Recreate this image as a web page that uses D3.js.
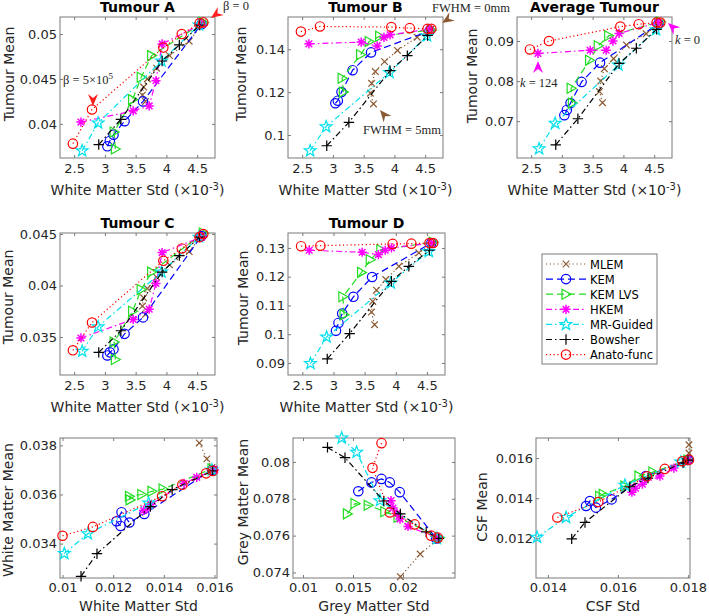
<!DOCTYPE html>
<html><head><meta charset="utf-8">
<script src="https://cdn.jsdelivr.net/npm/d3@7"></script>
<style>body{margin:0;background:#fff} svg{display:block}</style>
</head><body>
<svg id="c" width="709" height="616"></svg>
<script>
// ---------------- DATA ----------------
const methods = ["MLEM", "KEM", "KEM LVS", "HKEM", "MR-Guided", "Bowsher", "Anato-func"];

// White matter std (x10^-3) for the tumour panels, one array per method
const wmStdTop = [
  [3.66, 3.61, 3.63, 3.69, 3.84, 4.05, 4.37, 4.6],
  [3.04, 3.08, 3.14, 3.32, 3.62, 4.57],
  [3.17, 3.15, 3.45, 3.59, 3.76, 4.6],
  [2.61, 3.46, 3.72, 3.83, 3.93, 4.57],
  [2.63, 2.89, 3.92, 4.53],
  [2.9, 3.26, 3.93, 4.21, 4.54],
  [2.48, 2.79, 3.95, 4.25, 4.54, 4.6]
];
const tumourAMean = [
  [0.0425, 0.0432, 0.0441, 0.0450, 0.0462, 0.0476, 0.0492, 0.0513],
  [0.0375, 0.0381, 0.0388, 0.0403, 0.0425, 0.0511],
  [0.0372, 0.0391, 0.0427, 0.0452, 0.0476, 0.0513],
  [0.0402, 0.04145, 0.0420, 0.0448, 0.0489, 0.0511],
  [0.0370, 0.0401, 0.0470, 0.0510],
  [0.0377, 0.0405, 0.0470, 0.0488, 0.0510],
  [0.0378, 0.0416, 0.0485, 0.0500, 0.0512, 0.0513]
];
const tumourBMean = [
  [0.1145, 0.1195, 0.1241, 0.1296, 0.1342, 0.1394, 0.1456, 0.1495],
  [0.1148, 0.1160, 0.1200, 0.1302, 0.1385, 0.1485],
  [0.1200, 0.1265, 0.1374, 0.1436, 0.1460, 0.1490],
  [0.1425, 0.1433, 0.1415, 0.1455, 0.1467, 0.1493],
  [0.0927, 0.1039, 0.1291, 0.1462],
  [0.0950, 0.1059, 0.1300, 0.1370, 0.1464],
  [0.1482, 0.1506, 0.1503, 0.1498, 0.1495, 0.1495]
];
const averageTumourMean = [
  [0.0746, 0.0774, 0.0800, 0.0831, 0.0856, 0.0890, 0.0918, 0.0946],
  [0.0715, 0.0728, 0.0745, 0.0798, 0.0846, 0.0943],
  [0.0745, 0.0782, 0.0852, 0.0888, 0.0913, 0.0948],
  [0.0869, 0.0877, 0.0877, 0.0900, 0.0919, 0.0946],
  [0.0631, 0.0695, 0.0840, 0.0928],
  [0.0641, 0.0706, 0.0844, 0.0882, 0.0929],
  [0.0879, 0.0900, 0.0936, 0.0942, 0.0946, 0.0946]
];
const tumourCMean = [
  [0.0372, 0.0380, 0.0388, 0.0397, 0.0408, 0.0420, 0.0433, 0.0450],
  [0.0332, 0.0335, 0.0338, 0.0353, 0.0369, 0.0448],
  [0.0328, 0.0345, 0.0375, 0.0396, 0.0413, 0.0451],
  [0.0349, 0.0367, 0.0377, 0.0402, 0.0432, 0.0447],
  [0.0336, 0.0360, 0.0413, 0.0447],
  [0.0335, 0.0356, 0.0413, 0.0429, 0.0447],
  [0.0337, 0.0364, 0.0424, 0.0436, 0.0447, 0.0450]
];
const tumourDMean = [
  [0.1033, 0.1077, 0.1114, 0.1153, 0.1190, 0.1236, 0.1283, 0.1317],
  [0.1012, 0.1039, 0.1072, 0.1130, 0.1199, 0.1317],
  [0.1068, 0.1130, 0.1215, 0.1259, 0.1294, 0.1320],
  [0.1292, 0.1285, 0.1277, 0.1292, 0.1300, 0.1317],
  [0.0898, 0.0990, 0.1178, 0.1288],
  [0.0914, 0.1002, 0.1184, 0.1236, 0.1292],
  [0.1306, 0.1308, 0.1314, 0.1315, 0.1317, 0.1317]
];
// White matter region
const wmStd = [
  [0.0154, 0.0157, 0.0159, 0.01597, 0.0160],
  [0.01229, 0.01213, 0.01233, 0.01264, 0.01323, 0.0159],
  [0.01267, 0.01264, 0.01313, 0.01353, 0.01397, 0.0159],
  [0.0132, 0.01335, 0.0135, 0.0148, 0.0153, 0.0160],
  [0.01007, 0.0110, 0.0134, 0.0159],
  [0.01073, 0.01136, 0.01347, 0.01433, 0.01593],
  [0.0100, 0.0112, 0.01393, 0.01473, 0.01567, 0.01593]
];
const wmMean = [
  [0.0381, 0.03745, 0.0371, 0.03703, 0.0370],
  [0.03472, 0.03491, 0.03528, 0.03486, 0.03521, 0.0370],
  [0.03578, 0.03593, 0.0360, 0.03613, 0.03622, 0.03705],
  [0.03535, 0.03545, 0.0356, 0.03645, 0.0367, 0.0370],
  [0.0336, 0.0344, 0.03565, 0.0370],
  [0.03267, 0.03359, 0.03551, 0.0362, 0.03696],
  [0.03432, 0.03468, 0.03593, 0.0364, 0.03686, 0.03696]
];
// Grey matter region
const gmStd = [
  [0.01974, 0.02172, 0.02358],
  [0.01553, 0.01685, 0.01785, 0.01868, 0.01967, 0.02331],
  [0.01444, 0.0152, 0.01652, 0.01818, 0.0195, 0.02364],
  [0.0188, 0.0190, 0.0194, 0.0197, 0.0205, 0.0234],
  [0.01387, 0.01536, 0.0177, 0.0234],
  [0.01245, 0.0142, 0.01808, 0.01974, 0.02232, 0.02358],
  [0.01785, 0.01695, 0.01868, 0.02116, 0.02281, 0.02348]
];
const gmMean = [
  [0.07377, 0.0750, 0.07585],
  [0.07841, 0.07889, 0.07908, 0.07889, 0.07836, 0.07585],
  [0.07718, 0.07774, 0.07765, 0.0773, 0.0770, 0.07589],
  [0.0779, 0.0775, 0.0772, 0.0769, 0.0765, 0.0759],
  [0.0813, 0.08053, 0.0779, 0.07585],
  [0.08079, 0.08023, 0.07788, 0.07718, 0.0762, 0.07585],
  [0.08102, 0.07968, 0.07726, 0.07661, 0.0760, 0.07589]
];
// CSF region
const csfStd = [
  [0.01803, 0.01803, 0.01803],
  [0.01509, 0.0152, 0.01537, 0.01582, 0.0168, 0.0180],
  [0.01548, 0.01558, 0.0162, 0.0166, 0.0170, 0.0180],
  [0.0164, 0.0165, 0.0167, 0.0172, 0.0176, 0.0180],
  [0.01369, 0.01452, 0.0162, 0.0178],
  [0.01468, 0.01506, 0.01634, 0.01686, 0.01786, 0.0180],
  [0.01427, 0.01544, 0.01683, 0.01734, 0.01784, 0.01803]
];
const csfMean = [
  [0.01666, 0.01625, 0.01592],
  [0.01361, 0.01386, 0.01353, 0.01394, 0.0151, 0.0159],
  [0.0141, 0.0142, 0.0146, 0.0151, 0.0153, 0.0159],
  [0.0143, 0.0145, 0.0147, 0.0151, 0.0155, 0.0159],
  [0.01205, 0.01304, 0.01465, 0.0158],
  [0.01197, 0.01279, 0.01457, 0.0150, 0.01576, 0.0159],
  [0.01304, 0.01381, 0.01509, 0.01546, 0.01584, 0.01592]
];

// tick values
const topXTicks = [2.5, 3, 3.5, 4, 4.5];
const tumourATicks = [0.04, 0.045, 0.05];
const tumourBTicks = [0.1, 0.12, 0.14];
const averageTicks = [0.07, 0.08, 0.09];
const tumourCTicks = [0.035, 0.04, 0.045];
const tumourDTicks = [0.09, 0.1, 0.11, 0.12, 0.13];
const wmXTicks = [0.01, 0.012, 0.014, 0.016];
const wmYTicks = [0.034, 0.036, 0.038];
const gmXTicks = [0.01, 0.015, 0.02];
const gmYTicks = [0.074, 0.076, 0.078, 0.08];
const csfXTicks = [0.014, 0.016, 0.018];
const csfYTicks = [0.012, 0.014, 0.016];

// ---------------- STYLE ----------------
const colors = ["#8b5a33", "#0000ff", "#22dd22", "#ff00ff", "#00e0ee", "#000000", "#ff0000"];
const dashes = ["1.2,2.6", "7,4", "7,4", "6,3,1.5,3", "6,3,1.5,3", "6,3,1.5,3", "1.2,2.6"];
const markerTypes = ["x", "o", "tri", "ast", "pent", "plus", "o"];
const FONT = "'DejaVu Sans', sans-serif";
const SERIF = "'Liberation Serif', 'DejaVu Serif', serif";
const TXT = "#262626";

const svg = d3.select("#c");
svg.append("rect").attr("width", 709).attr("height", 616).attr("fill", "#fff");

function pentPath(R, r) {
  const pts = [];
  for (let i = 0; i < 10; i++) {
    const a = -Math.PI / 2 + i * Math.PI / 5;
    const rad = i % 2 === 0 ? R : r;
    pts.push([rad * Math.cos(a), rad * Math.sin(a)]);
  }
  return "M" + pts.map(p => p[0].toFixed(2) + "," + p[1].toFixed(2)).join("L") + "Z";
}
const markerPaths = {
  x: "M-3.3,-3.3L3.3,3.3M-3.3,3.3L3.3,-3.3",
  tri: "M-4,-5L5,0L-4,5Z",
  ast: "M0,-4.6V4.6M-4.6,0H4.6M-3.3,-3.3L3.3,3.3M-3.3,3.3L3.3,-3.3",
  pent: pentPath(6.2, 2.5),
  plus: "M-5.2,0H5.2M0,-5.2V5.2"
};
function drawMarker(g, type, color, cx, cy) {
  if (type === "o") {
    g.append("circle").attr("cx", cx).attr("cy", cy).attr("r", 4.7)
      .attr("fill", "none").attr("stroke", color).attr("stroke-width", 1.2);
  } else {
    g.append("path").attr("d", markerPaths[type])
      .attr("transform", `translate(${cx},${cy})`)
      .attr("fill", "none").attr("stroke", color).attr("stroke-width", type === "ast" ? 1.5 : 1.2);
  }
}

function panel(cfg) {
  const [x0, x1, y0, y1] = cfg.box;
  const x = d3.scaleLinear().domain(cfg.xdom).range([x0, x1]);
  const y = d3.scaleLinear().domain(cfg.ydom).range([y1, y0]);
  const g = svg.append("g");
  const fmt = d3.format("~g");

  // box
  g.append("rect").attr("x", x0).attr("y", y0).attr("width", x1 - x0).attr("height", y1 - y0)
    .attr("fill", "#fff").attr("stroke", "#7a7a7a").attr("stroke-width", 1);

  const styleAxis = sel => {
    sel.select(".domain").remove();
    sel.selectAll("line").attr("stroke", "#7a7a7a");
    sel.selectAll("text").attr("fill", TXT).attr("font-family", FONT).attr("font-size", 13);
  };
  g.append("g").attr("transform", `translate(0,${y1})`)
    .call(d3.axisBottom(x).tickValues(cfg.xticks).tickFormat(fmt).tickSizeInner(-3).tickSizeOuter(0).tickPadding(cfg.xpad || 6))
    .call(styleAxis);
  g.append("g").attr("transform", `translate(0,${y0})`)
    .call(d3.axisTop(x).tickValues(cfg.xticks).tickFormat("").tickSizeInner(-3).tickSizeOuter(0))
    .call(styleAxis);
  g.append("g").attr("transform", `translate(${x0},0)`)
    .call(d3.axisLeft(y).tickValues(cfg.yticks).tickFormat(fmt).tickSizeInner(-3).tickSizeOuter(0).tickPadding(3))
    .call(styleAxis);
  g.append("g").attr("transform", `translate(${x1},0)`)
    .call(d3.axisRight(y).tickValues(cfg.yticks).tickFormat("").tickSizeInner(-3).tickSizeOuter(0))
    .call(styleAxis);

  // series
  methods.forEach((m, i) => {
    const pts = cfg.xs[i].map((v, j) => [v, cfg.ys[i][j]]);
    const line = d3.line().x(d => x(d[0])).y(d => y(d[1]));
    g.append("path").attr("d", line(pts)).attr("fill", "none")
      .attr("stroke", colors[i]).attr("stroke-width", 1.2).attr("stroke-dasharray", dashes[i]);
    pts.forEach(p => drawMarker(g, markerTypes[i], colors[i], x(p[0]), y(p[1])));
  });

  // title
  if (cfg.title) {
    g.append("text").attr("x", (x0 + x1) / 2).attr("y", y0 - 5).attr("text-anchor", "middle")
      .attr("font-family", FONT).attr("font-weight", "bold").attr("font-size", 14).attr("fill", "#000")
      .text(cfg.title);
  }
  // x label
  const xl = g.append("text").attr("x", (x0 + x1) / 2).attr("y", y1 + (cfg.xlabelDy || 37)).attr("text-anchor", "middle")
    .attr("font-family", FONT).attr("font-size", 14).attr("fill", TXT);
  if (cfg.sup) {
    xl.append("tspan").text(cfg.xlabel + " (×10");
    xl.append("tspan").attr("dy", -5).attr("font-size", 10).text("-3");
    xl.append("tspan").attr("dy", 5).text(")");
  } else {
    xl.text(cfg.xlabel);
  }
  // y label
  g.append("text").attr("transform", `translate(${cfg.ylabelX},${cfg.ylabelY}) rotate(-90)`)
    .attr("text-anchor", "middle").attr("font-family", FONT).attr("font-size", 14).attr("fill", TXT)
    .text(cfg.ylabel);
  return { x, y };
}

const topXDom = [2.27, 4.79];
panel({ box: [60, 215, 17, 158], xdom: topXDom, ydom: [0.0362, 0.0519], xticks: topXTicks, yticks: tumourATicks,
  xs: wmStdTop, ys: tumourAMean, title: "Tumour A", xlabel: "White Matter Std", sup: true, ylabel: "Tumour Mean", ylabelX: 14, ylabelY: 74 });
panel({ box: [288, 443, 17, 158], xdom: topXDom, ydom: [0.0893, 0.155], xticks: topXTicks, yticks: tumourBTicks,
  xs: wmStdTop, ys: tumourBMean, title: "Tumour B", xlabel: "White Matter Std", sup: true, ylabel: "Tumour Mean", ylabelX: 246, ylabelY: 74 });
panel({ box: [517, 672, 17, 158], xdom: topXDom, ydom: [0.0608, 0.096], xticks: topXTicks, yticks: averageTicks,
  xs: wmStdTop, ys: averageTumourMean, title: "Average Tumour", xlabel: "White Matter Std", sup: true, ylabel: "Tumour Mean", ylabelX: 477, ylabelY: 76 });
panel({ box: [60, 215, 233, 375], xdom: topXDom, ydom: [0.0313, 0.0451], xticks: topXTicks, yticks: tumourCTicks,
  xs: wmStdTop, ys: tumourCMean, title: "Tumour C", xlabel: "White Matter Std", sup: true, ylabel: "Tumour Mean", ylabelX: 13, ylabelY: 297 });
panel({ box: [288, 445, 233, 375], xdom: topXDom, ydom: [0.0858, 0.1352], xticks: topXTicks, yticks: tumourDTicks,
  xs: wmStdTop, ys: tumourDMean, title: "Tumour D", xlabel: "White Matter Std", sup: true, ylabel: "Tumour Mean", ylabelX: 248, ylabelY: 298 });
panel({ box: [60, 217, 438, 578], xdom: [0.0099, 0.0161], ydom: [0.0326, 0.0383], xticks: wmXTicks, yticks: wmYTicks,
  xs: wmStd, ys: wmMean, xlabel: "White Matter Std", ylabel: "White Matter Mean", ylabelX: 13, ylabelY: 510, xlabelDy: 33, xpad: 5 });
panel({ box: [293, 455, 438, 578], xdom: [0.009, 0.0252], ydom: [0.0737, 0.0813], xticks: gmXTicks, yticks: gmYTicks,
  xs: gmStd, ys: gmMean, xlabel: "Grey Matter Std", ylabel: "Grey Matter Mean", ylabelX: 248, ylabelY: 502, xlabelDy: 33, xpad: 5 });
panel({ box: [536, 690, 438, 578], xdom: [0.01366, 0.01806], ydom: [0.01002, 0.0170], xticks: csfXTicks, yticks: csfYTicks,
  xs: csfStd, ys: csfMean, xlabel: "CSF Std", ylabel: "CSF Mean", ylabelX: 487, ylabelY: 507, xlabelDy: 33, xpad: 5 });

// ---------------- LEGEND ----------------
const lg = svg.append("g");
lg.append("rect").attr("x", 542).attr("y", 254).attr("width", 115).attr("height", 110)
  .attr("fill", "#fff").attr("stroke", "#7a7a7a").attr("stroke-width", 1);
methods.forEach((m, i) => {
  const yy = 264 + i * 15.1;
  lg.append("line").attr("x1", 546).attr("x2", 586).attr("y1", yy).attr("y2", yy)
    .attr("stroke", colors[i]).attr("stroke-width", 1.2).attr("stroke-dasharray", dashes[i]);
  drawMarker(lg, markerTypes[i], colors[i], 566, yy);
  lg.append("text").attr("x", 590).attr("y", yy + 4.5).attr("font-family", FONT).attr("font-size", 11.5)
    .attr("fill", "#000").text(m);
});

// ---------------- ANNOTATIONS ----------------
function arrowHead(tx, ty, fx, fy, color) {
  const ang = Math.atan2(ty - fy, tx - fx) * 180 / Math.PI;
  svg.append("path").attr("d", "M0,0L-12,-5L-8,0L-12,5Z")
    .attr("transform", `translate(${tx},${ty}) rotate(${ang})`).attr("fill", color);
}
function note(xp, yp, parts, size) {
  const t = svg.append("text").attr("x", xp).attr("y", yp).attr("font-family", SERIF)
    .attr("font-size", size || 12.5).attr("fill", "#262626");
  parts.forEach(p => {
    const s = t.append("tspan").text(p.t);
    if (p.i) s.attr("font-style", "italic");
    if (p.dy) s.attr("dy", p.dy);
    if (p.fs) s.attr("font-size", p.fs);
  });
}
arrowHead(211, 18, 222, 10, "#ff2020");
note(223, 10, [{ t: "β = 0" }]);
arrowHead(93, 106, 93, 94, "#ff2020");
note(63, 84, [{ t: "β = 5×10" }, { t: "5", dy: -5, fs: 9 }]);
arrowHead(442, 23, 453, 16, "#8b5a33");
note(432, 12, [{ t: "FWHM = 0mm" }]);
arrowHead(380, 110, 389, 121, "#8b5a33");
note(363, 134, [{ t: "FWHM = 5mm" }]);
arrowHead(668, 23, 679, 33, "#ff00ff");
note(675, 44, [{ t: "k", i: true }, { t: " = 0" }]);
arrowHead(538, 61, 538, 74, "#ff00ff");
note(520, 87, [{ t: "k", i: true }, { t: " = 124" }]);
</script>
</body></html>
